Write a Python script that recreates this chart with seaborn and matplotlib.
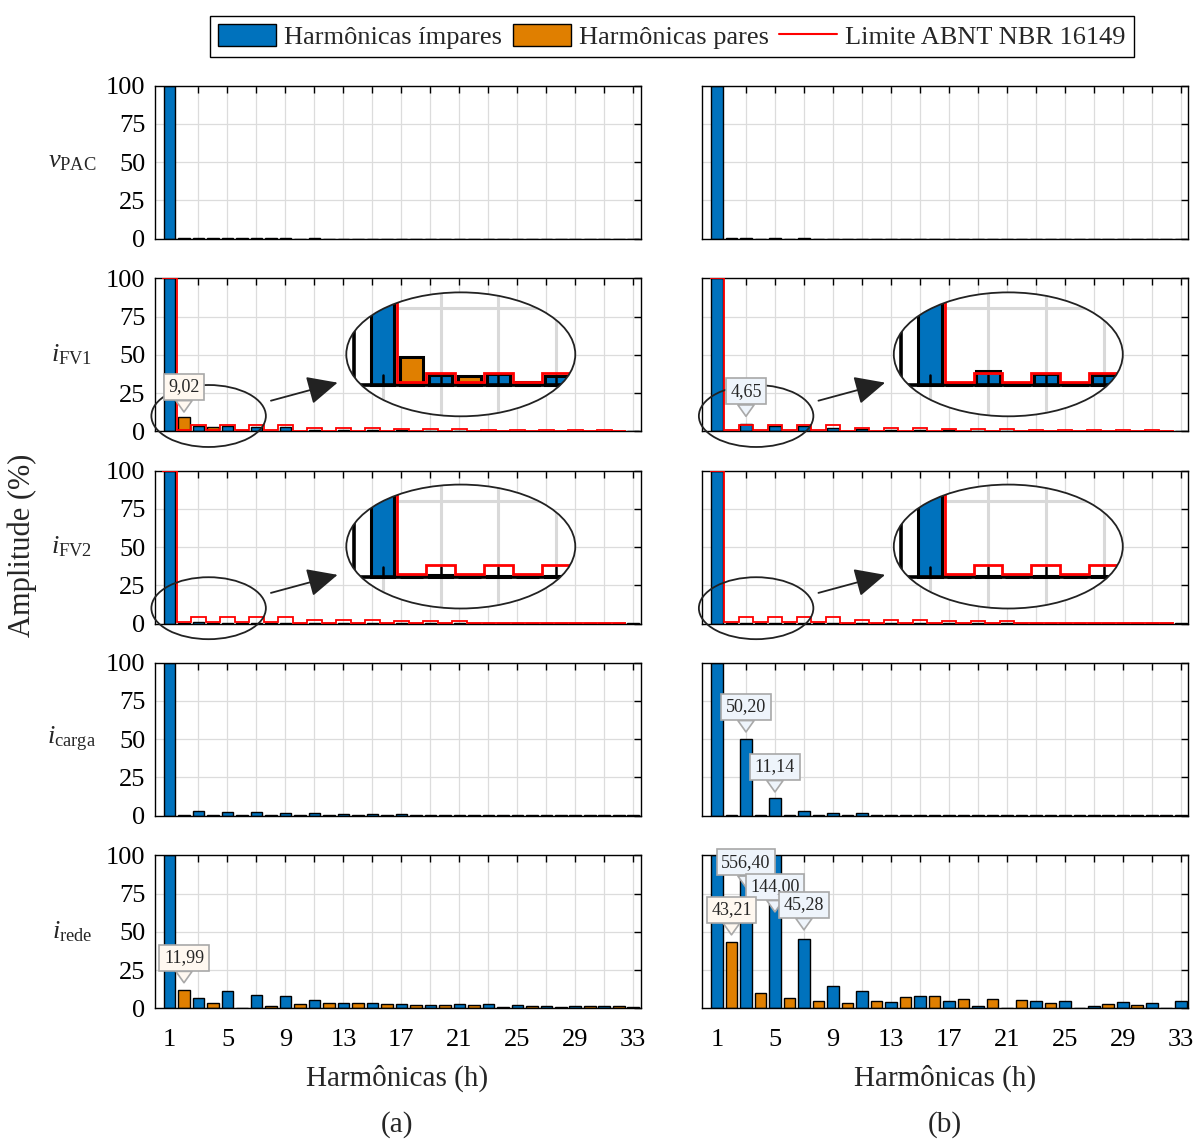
import numpy as np
import pandas as pd
import matplotlib
matplotlib.use('Agg')
import matplotlib.pyplot as plt
import seaborn as sns
from matplotlib.patches import Ellipse, Patch
from matplotlib.lines import Line2D

# ---------------- data ----------------
harmonics = list(range(1, 34))

v_pac_a = [100, 0.2, 0.3, 0.2, 0.3, 0.2, 0.2, 0.2, 0.2, 0.1, 0.2, 0.1, 0.1, 0.1, 0.1, 0.1, 0.1,
           0.1, 0.1, 0.1, 0.1, 0.1, 0.1, 0.1, 0.1, 0.1, 0.1, 0.1, 0.1, 0.1, 0.1, 0.1, 0.1]
v_pac_b = [100, 0.2, 0.3, 0.1, 0.2, 0.1, 0.2, 0.1, 0.1, 0.1, 0.1, 0.1, 0.1, 0.1, 0.1, 0.1, 0.1,
           0.1, 0.1, 0.1, 0.1, 0.1, 0.1, 0.1, 0.1, 0.1, 0.1, 0.1, 0.1, 0.1, 0.1, 0.1, 0.1]
i_fv1_a = [100, 9.02, 3.3, 3.0, 3.5, 1.0, 3.0, 0.5, 2.6, 0.4, 1.1, 0.3, 0.9, 0.3, 0.7, 0.3, 0.6,
           0.3, 0.5, 0.2, 0.5, 0.2, 0.3, 0.2, 0.3, 0.2, 0.2, 0.2, 0.2, 0.1, 0.2, 0.1, 0.2]
i_fv1_b = [100, 0.3, 4.65, 0.3, 3.6, 0.2, 3.4, 0.2, 2.4, 0.2, 1.3, 0.2, 0.9, 0.2, 0.6, 0.2, 0.6,
           0.1, 0.5, 0.1, 0.5, 0.1, 0.3, 0.1, 0.3, 0.1, 0.2, 0.1, 0.2, 0.1, 0.2, 0.1, 0.2]
i_fv2_a = [100, 0.1, 0.8, 0.1, 0.3, 0.1, 0.3, 0.1, 0.3, 0.1, 0.2, 0.1, 0.2, 0.1, 0.2, 0.1, 0.2,
           0.1, 0.2, 0.1, 0.2, 0.1, 0.1, 0.1, 0.1, 0.1, 0.1, 0.1, 0.1, 0.1, 0.1, 0.1, 0.1]
i_fv2_b = [100, 0.2, 0.4, 0.2, 0.3, 0.2, 0.3, 0.1, 0.3, 0.1, 0.2, 0.1, 0.2, 0.1, 0.2, 0.1, 0.2,
           0.1, 0.2, 0.1, 0.2, 0.1, 0.1, 0.1, 0.1, 0.1, 0.1, 0.1, 0.1, 0.1, 0.1, 0.1, 0.1]
i_carga_a = [100, 0.2, 2.8, 0.2, 2.5, 0.2, 2.2, 0.1, 1.9, 0.1, 1.5, 0.1, 1.1, 0.1, 0.9, 0.1, 0.7,
             0.1, 0.6, 0.1, 0.4, 0.1, 0.3, 0.1, 0.3, 0.1, 0.2, 0.1, 0.2, 0.1, 0.2, 0.1, 0.2]
i_carga_b = [100, 0.5, 50.20, 0.3, 11.14, 0.2, 3.0, 0.2, 1.5, 0.1, 1.5, 0.1, 0.3, 0.1, 0.3, 0.1, 0.2,
             0.1, 0.2, 0.1, 0.2, 0.1, 0.2, 0.1, 0.2, 0.1, 0.3, 0.3, 0.2, 0.3, 0.2, 0.3, 0.1]
i_rede_a = [100, 11.99, 6.5, 3.5, 11.1, 0.5, 8.7, 1.7, 7.8, 2.8, 5.2, 3.3, 3.4, 3.2, 3.2, 3.0, 2.8,
            2.3, 2.1, 2.1, 2.6, 2.1, 2.5, 1.1, 2.1, 1.6, 1.8, 1.1, 1.6, 1.6, 1.8, 1.8, 0.7]
i_rede_b = [100, 43.21, 556.40, 9.9, 144.00, 6.5, 45.28, 5.0, 14.8, 3.2, 11.6, 4.5, 4.1, 7.3, 7.9, 8.2, 4.7,
            5.8, 1.3, 6.2, 0.3, 5.2, 4.5, 3.2, 4.5, 0.3, 1.3, 2.8, 3.9, 2.4, 3.2, 0.2, 4.5]

limit_harmonics = list(range(1, 33))
abnt_limit = [100, 1, 4, 1, 4, 1, 4, 1, 4, 0.5, 2, 0.5, 2, 0.5, 2, 0.5,
              1.5, 0.5, 1.5, 0.5, 1.5, 0.5, 0.6, 0.5, 0.6, 0.5, 0.6, 0.5, 0.6, 0.5, 0.6, 0.5]

row_labels = [r'$v_{\mathrm{PAC}}$', r'$i_{\mathrm{FV1}}$', r'$i_{\mathrm{FV2}}$',
              r'$i_{\mathrm{carga}}$', r'$i_{\mathrm{rede}}$']
col_a = [v_pac_a, i_fv1_a, i_fv2_a, i_carga_a, i_rede_a]
col_b = [v_pac_b, i_fv1_b, i_fv2_b, i_carga_b, i_rede_b]
rows_with_limit = [1, 2]

# data tips: (column, row, harmonic, text, tip height)
tips = [
    ('a', 1, 2, '9,02', 12.6),
    ('b', 1, 3, '4,65', 9.8),
    ('b', 3, 3, '50,20', 54.6),
    ('b', 3, 5, '11,14', 15.4),
    ('a', 4, 2, '11,99', 16.7),
    ('b', 4, 3, '556,40', 79.0),
    ('b', 4, 5, '144,00', 63.0),
    ('b', 4, 2, '43,21', 48.0),
    ('b', 4, 7, '45,28', 51.3),
]

BLUE = '#0072BD'
ORANGE = '#E07F00'
palette = {'ímpar': BLUE, 'par': ORANGE}
tip_face = {'ímpar': '#EEF4FB', 'par': '#FFF8F0'}

# ---------------- style ----------------
sns.set_theme(style='white')
plt.rcParams['font.family'] = ['Liberation Serif', 'DejaVu Serif']
plt.rcParams['mathtext.fontset'] = 'custom'
plt.rcParams['mathtext.rm'] = 'Liberation Serif'
plt.rcParams['mathtext.it'] = 'Liberation Serif:italic'
plt.rcParams['axes.edgecolor'] = 'black'
plt.rcParams['axes.linewidth'] = 1.0

FS = 19

fig = plt.figure(figsize=(11.95, 11.4), dpi=100)
W, H = 1195.0, 1140.0
col_left = {'a': 155.0, 'b': 702.5}
ax_w = 485.5
row_tops = [85.7, 278.3, 470.5, 662.5, 855.3]
ax_h = 153.0

edges = np.arange(0.5, 33.0, 1.0)


def make_df(values):
    return pd.DataFrame({'h': harmonics, 'amp': values,
                         'tipo': ['ímpar' if h % 2 else 'par' for h in harmonics]})


def draw_inset(ax, values):
    src_cx, src_cy, src_w, src_h = 3.7, 10.0, 7.9, 40.5
    cx, cy = 21.1, 50.3
    iax = ax.inset_axes([cx - src_w, cy - src_h, 2 * src_w, 2 * src_h], transform=ax.transData)
    sns.barplot(data=make_df(values), x='h', y='amp', hue='tipo', palette=palette,
                saturation=1, native_scale=True, dodge=False, width=0.8, edgecolor='black',
                linewidth=2.2, errorbar=None, legend=False, ax=iax, zorder=2)
    bg = Ellipse((0.5, 0.5), 1, 1, transform=iax.transAxes, fc='white', ec='none', zorder=0)
    iax.add_patch(bg)
    for h in [1, 3, 5, 7]:
        iax.axvline(h, color='#d9d9d9', lw=2.2, zorder=0.5)
    for y in [0, 25]:
        iax.axhline(y, color='#d9d9d9', lw=2.2, zorder=0.5)
    iax.axhline(0, color='black', lw=2.6, zorder=2.5)
    iax.plot([0, 0], [0, 100], color='black', lw=2.6, zorder=2.5)
    for h in [1, 3, 5, 7]:
        iax.plot([h, h], [0, 3.3], color='black', lw=1.8, zorder=2.4)
    iax.stairs(abnt_limit, edges, baseline=None, color='red', lw=2.0, zorder=3)
    iax.set_xlim(src_cx - src_w / 2, src_cx + src_w / 2)
    iax.set_ylim(src_cy - src_h / 2, src_cy + src_h / 2)
    iax.set_xlabel('')
    iax.set_ylabel('')
    iax.set_xticks([])
    iax.set_yticks([])
    iax.axis('off')
    iax.patch.set_visible(False)
    clip = Ellipse((0.5, 0.5), 1, 1, transform=iax.transAxes)
    for art in iax.get_children():
        art.set_clip_path(clip)
    outline = Ellipse((0.5, 0.5), 1, 1, transform=iax.transAxes, fill=False,
                      ec='#222222', lw=1.3, zorder=10)
    iax.add_patch(outline)
    outline.set_clip_on(False)
    # source ellipse and arrow on main axes
    ax.add_patch(Ellipse((src_cx, src_cy), src_w, src_h, fill=False, ec='#222222',
                         lw=1.3, clip_on=False, zorder=6))
    ax.annotate('', xy=(12.6, 31.8), xytext=(8.0, 20.0),
                arrowprops=dict(arrowstyle='-|>,head_length=0.85,head_width=0.4',
                                color='#222222', lw=1.3, mutation_scale=22,
                                shrinkA=0, shrinkB=0), zorder=6)


for col, data in (('a', col_a), ('b', col_b)):
    for r, values in enumerate(data):
        left = col_left[col] / W
        bottom = 1 - (row_tops[r] + ax_h) / H
        ax = fig.add_axes([left, bottom, ax_w / W, ax_h / H])
        sns.barplot(data=make_df(values), x='h', y='amp', hue='tipo', palette=palette,
                    saturation=1, native_scale=True, dodge=False, width=0.8, edgecolor='black',
                    linewidth=1.0, errorbar=None, legend=False, ax=ax, zorder=2)
        if r in rows_with_limit:
            ax.stairs(abnt_limit, edges, baseline=None, color='red', lw=1.3, zorder=3)
            draw_inset(ax, values)
        ax.set_xlim(0, 33.5)
        ax.set_ylim(0, 100)
        ax.set_axisbelow(True)
        ax.grid(True, color='#dcdcdc', lw=0.9)
        odd = list(range(1, 34, 2))
        ax.set_xticks(odd)
        ax.set_xticklabels([str(h) if (h - 1) % 4 == 0 else '' for h in odd])
        ax.set_yticks([0, 25, 50, 75, 100])
        ax.set_yticklabels(['0', '25', '50', '75', '100'])
        ax.tick_params(direction='in', top=True, right=True, length=5, width=1.0,
                       labelsize=FS, colors='black')
        ax.tick_params(axis='x', pad=15)
        ax.tick_params(axis='y', pad=7)
        ax.set_xlabel('')
        ax.set_ylabel('')
        if r != 4:
            ax.tick_params(labelbottom=False)
        if col == 'b':
            ax.tick_params(labelleft=False)
        else:
            ax.set_ylabel(row_labels[r], rotation=0, fontsize=FS, ha='center', va='center')
            ax.yaxis.set_label_coords(-83 / ax_w, 0.5)
        for s in ax.spines.values():
            s.set_color('black')
            s.set_linewidth(1.0)
        # data tips
        for (tc, tr, th, txt, ty) in tips:
            if tc == col and tr == r:
                kind = 'ímpar' if th % 2 else 'par'
                ax.annotate(txt, xy=(th, ty), xytext=(0, 25), textcoords='offset pixels',
                            ha='center', va='center', fontsize=13, zorder=8,
                            bbox=dict(boxstyle='square,pad=0.25', fc=tip_face[kind],
                                      ec='#a8a8a8', lw=1.2),
                            arrowprops=dict(arrowstyle='wedge,tail_width=0.9,shrink_factor=0.5',
                                            fc=tip_face[kind], ec='#a8a8a8', lw=1.2,
                                            shrinkA=0, shrinkB=0))

# axis titles
fig.text(22 / W, 1 - 545 / H, 'Amplitude (%)', rotation=90, ha='center', va='center', fontsize=22)
fig.text(397.5 / W, 1 - 1078 / H, 'Harmônicas (h)', ha='center', va='center', fontsize=21)
fig.text(945 / W, 1 - 1078 / H, 'Harmônicas (h)', ha='center', va='center', fontsize=21)
fig.text(397.5 / W, 1 - 1125 / H, '(a)', ha='center', va='center', fontsize=21)
fig.text(945 / W, 1 - 1125 / H, '(b)', ha='center', va='center', fontsize=21)

handles = [Patch(fc=BLUE, ec='black', lw=1.0), Patch(fc=ORANGE, ec='black', lw=1.0),
           Line2D([0], [0], color='red', lw=1.5)]
labels = ['Harmônicas ímpares', 'Harmônicas pares', 'Limite ABNT NBR 16149']
leg = fig.legend(handles, labels, loc='center', bbox_to_anchor=(672 / W, 1 - 36.5 / H),
                 ncol=3, frameon=True, fancybox=False, framealpha=1, edgecolor='black',
                 fontsize=19, handlelength=2.2, handleheight=0.9, handletextpad=0.3,
                 columnspacing=0.4, borderpad=0.3, borderaxespad=0)
leg.get_frame().set_linewidth(1.0)

fig.savefig('out.png', dpi=100)
